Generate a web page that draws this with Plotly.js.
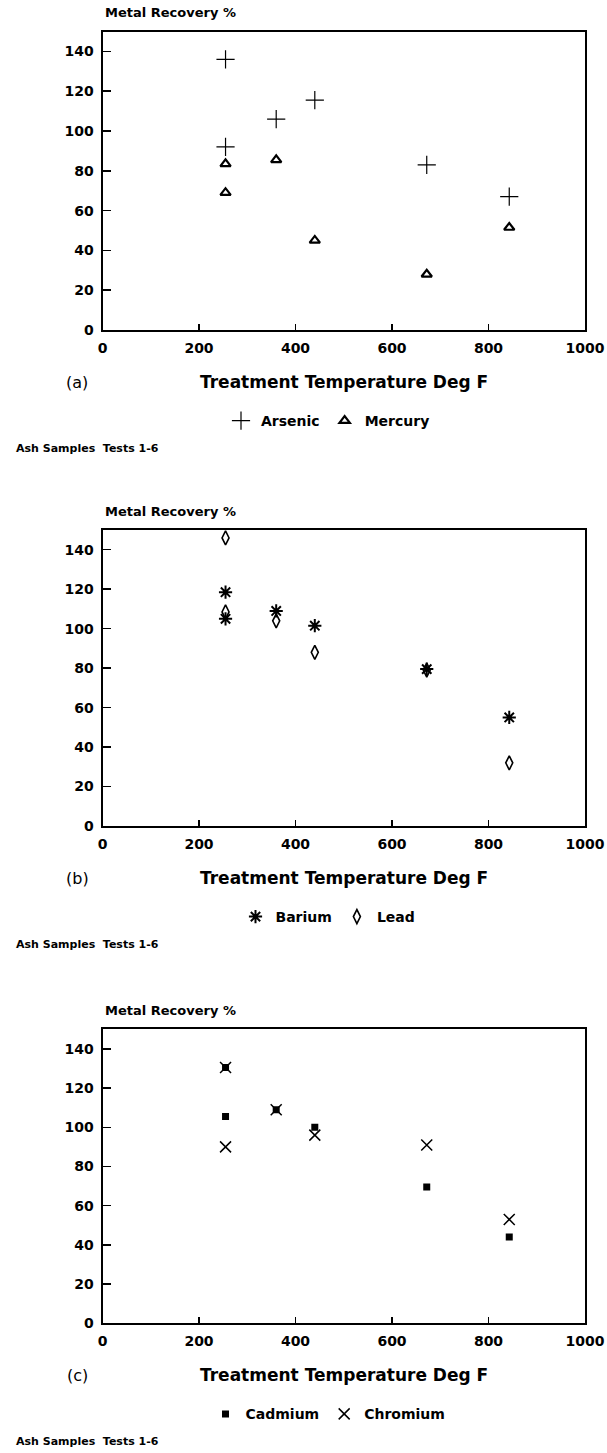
<!DOCTYPE html>
<html><head><meta charset="utf-8">
<script src="https://cdn.plot.ly/plotly-3.0.1.min.js"></script>
<style>html,body{margin:0;padding:0;background:#fff}</style>
</head><body><div id="chart" style="width:607px;height:1453px"></div>
<script>
// Data (treatment temperature deg F vs metal recovery %)
const arsenicX=[255,255,360,440,672,843];
const arsenicY=[136,92,106,115.5,83,67];
const mercuryX=[255,255,360,440,672,843];
const mercuryY=[83.5,69,85.5,45,28,51.5];
const bariumX=[255,255,360,440,672,843];
const bariumY=[118.5,105,109,101.5,79.5,55];
const leadX=[255,255,360,440,672,843];
const leadY=[146,108.5,104,88,79,32];
const cadmiumX=[255,255,360,440,672,843];
const cadmiumY=[130.5,105.5,109,100,69.5,44];
const chromiumX=[255,255,360,440,672,843];
const chromiumY=[130.5,90,109,96,91,53];
const xTicks=[0,200,400,600,800,1000];
const yTicks=[0,20,40,60,80,100,120,140];
const panelLabels=['(a)','(b)','(c)'];
const yTitle='Metal Recovery %';
const xTitle='Treatment Temperature Deg F';
const footNote='Ash Samples&nbsp;&nbsp;Tests 1-6';

const W=607,H=1453;
const FB='DejaVu Sans, sans-serif';
const px=(y)=>1-y/H;
const xDom=[102.5/W,585/W];
const panels=[{top:31.5,bottom:330},{top:530,bottom:826},{top:1029.3,bottom:1323.3}];

function xa(anchor){return {domain:xDom,range:[0,1000],tickvals:xTicks,ticks:'inside',ticklen:6,tickwidth:1.5,tickcolor:'#000',
  showline:true,linewidth:2,linecolor:'#000',mirror:true,showgrid:false,zeroline:false,anchor:anchor,
  tickfont:{family:FB,size:14,color:'#000',weight:'bold'},ticklabelstandoff:4};}
function ya(anchor,i){return {domain:[px(panels[i].bottom),px(panels[i].top)],range:[0,150],tickvals:yTicks,ticks:'inside',ticklen:8,tickwidth:1.5,tickcolor:'#000',
  showline:true,linewidth:2,linecolor:'#000',mirror:true,showgrid:false,zeroline:false,anchor:anchor,
  tickfont:{family:FB,size:14,color:'#000',weight:'bold'},ticklabelstandoff:4};}

const traces=[
 {x:arsenicX,y:arsenicY,name:'Arsenic',type:'scatter',mode:'markers',xaxis:'x',yaxis:'y',legend:'legend',
  marker:{symbol:'cross-thin-open',size:13,color:'#000',line:{color:'#000',width:1.2}}},
 {x:mercuryX,y:mercuryY,name:'Mercury',type:'scatter',mode:'markers',xaxis:'x',yaxis:'y',legend:'legend',
  marker:{symbol:'triangle-up-open',size:9,color:'#000',line:{color:'#000',width:2.2}}},
 {x:bariumX,y:bariumY,name:'Barium',type:'scatter',mode:'markers',xaxis:'x2',yaxis:'y2',legend:'legend2',
  marker:{symbol:'asterisk-open',size:11,color:'#000',line:{color:'#000',width:2}}},
 {x:leadX,y:leadY,name:'Lead',type:'scatter',mode:'markers',xaxis:'x2',yaxis:'y2',legend:'legend2',
  marker:{symbol:'diamond-tall-open',size:10,color:'#000',line:{color:'#000',width:1.6}}},
 {x:cadmiumX,y:cadmiumY,name:'Cadmium',type:'scatter',mode:'markers',xaxis:'x3',yaxis:'y3',legend:'legend3',
  marker:{symbol:'square',size:7,color:'#000',line:{color:'#000',width:0}}},
 {x:chromiumX,y:chromiumY,name:'Chromium',type:'scatter',mode:'markers',xaxis:'x3',yaxis:'y3',legend:'legend3',
  marker:{symbol:'x-thin-open',size:11,color:'#000',line:{color:'#000',width:1.5}}}
];

const annotations=[];
const legends={};
panels.forEach((p,i)=>{
  annotations.push({xref:'paper',yref:'paper',x:103/W,y:px(p.top-18.5),xanchor:'left',yanchor:'middle',showarrow:false,
    text:yTitle,font:{family:FB,size:13,color:'#000',weight:'bold'}});
  annotations.push({xref:'paper',yref:'paper',x:344/W,y:px(p.bottom+52),xanchor:'center',yanchor:'middle',showarrow:false,
    text:xTitle,font:{family:FB,size:17,color:'#000',weight:'bold'}});
  annotations.push({xref:'paper',yref:'paper',x:77/W,y:px(p.bottom+52),xanchor:'center',yanchor:'middle',showarrow:false,
    text:panelLabels[i],font:{family:FB,size:16,color:'#000'}});
  annotations.push({xref:'paper',yref:'paper',x:14/W,y:px(p.bottom+118),xanchor:'left',yanchor:'middle',showarrow:false,
    text:footNote,font:{family:FB,size:11,color:'#000',weight:'bold'}});
  legends[i===0?'legend':'legend'+(i+1)]={orientation:'h',x:328/W,xanchor:'center',y:px(p.bottom+91),yanchor:'middle',
    font:{family:FB,size:14,color:'#000',weight:'bold'},itemwidth:30,bgcolor:'rgba(0,0,0,0)',borderwidth:0,tracegroupgap:0};
});

const layout=Object.assign({
  width:W,height:H,margin:{l:0,r:0,t:0,b:0},paper_bgcolor:'#fff',plot_bgcolor:'#fff',
  showlegend:true,
  xaxis:xa('y'),yaxis:ya('x',0),
  xaxis2:xa('y2'),yaxis2:ya('x2',1),
  xaxis3:xa('y3'),yaxis3:ya('x3',2),
  annotations:annotations
},legends);

Plotly.newPlot('chart',traces,layout,{displayModeBar:false,staticPlot:true});
</script></body></html>
